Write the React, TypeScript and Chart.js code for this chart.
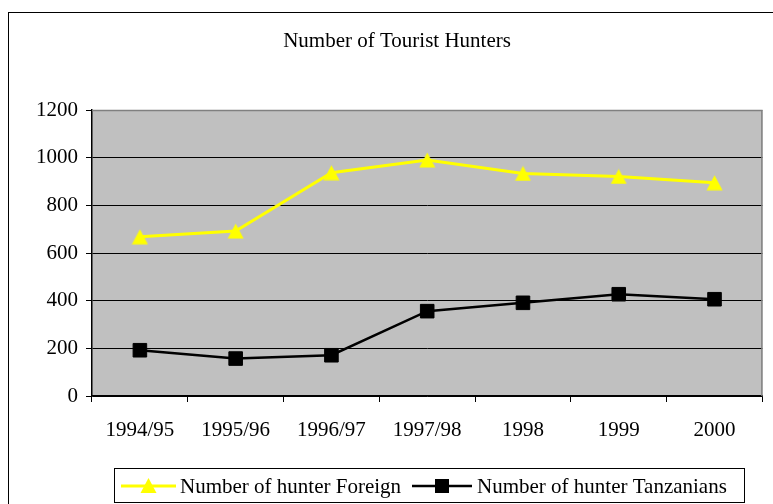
import React, { useEffect, useRef } from "react";
import { Chart, registerables } from "chart.js";

Chart.register(...registerables);

const categories = ["1994/95", "1995/96", "1996/97", "1997/98", "1998", "1999", "2000"];
const foreignHunters = [668, 692, 937, 990, 934, 921, 895];
const tanzanianHunters = [192, 157, 171, 356, 391, 427, 406];
const seriesLabels = ["Number of hunter Foreign", "Number of hunter Tanzanians"];
const chartTitle = "Number of Tourist Hunters";

const FONT = '"Liberation Serif", "Times New Roman", serif';

function makeTriangle(color: string): HTMLCanvasElement {
  const c = document.createElement("canvas");
  c.width = 17;
  c.height = 16;
  const g = c.getContext("2d")!;
  g.fillStyle = color;
  g.beginPath();
  g.moveTo(8.5, 0.5);
  g.lineTo(16.5, 15.5);
  g.lineTo(0.5, 15.5);
  g.closePath();
  g.fill();
  return c;
}

const framePlugin = {
  id: "frame",
  beforeDraw(chart: any) {
    const { ctx, chartArea } = chart;
    ctx.save();
    ctx.fillStyle = "#ffffff";
    ctx.fillRect(0, 0, chart.width, chart.height);
    ctx.strokeStyle = "#000000";
    ctx.lineWidth = 1;
    ctx.strokeRect(8.5, 12.5, 900, 600);
    ctx.fillStyle = "#C0C0C0";
    ctx.fillRect(chartArea.left, chartArea.top, chartArea.right - chartArea.left, chartArea.bottom - chartArea.top);
    ctx.restore();
  },
  beforeDatasetsDraw(chart: any) {
    const { ctx, chartArea } = chart;
    ctx.save();
    ctx.strokeStyle = "#808080";
    ctx.lineWidth = 1.5;
    ctx.beginPath();
    ctx.moveTo(chartArea.left, chartArea.top + 0.5);
    ctx.lineTo(chartArea.right - 0.5, chartArea.top + 0.5);
    ctx.lineTo(chartArea.right - 0.5, chartArea.bottom);
    ctx.stroke();
    ctx.restore();
  },
};

const boxLegendPlugin = {
  id: "boxLegend",
  afterDraw(chart: any) {
    const { ctx } = chart;
    const ds = chart.data.datasets;
    ctx.save();
    ctx.strokeStyle = "#000000";
    ctx.lineWidth = 1;
    ctx.strokeRect(114.5, 468.5, 630, 34);
    const cy = 486;
    const items = [
      { x0: 121, x1: 176, tx: 180 },
      { x0: 412, x1: 472, tx: 477 },
    ];
    ctx.font = `21px ${FONT}`;
    ctx.textBaseline = "middle";
    ctx.textAlign = "left";
    items.forEach((it, i) => {
      const d = ds[i];
      ctx.strokeStyle = d.borderColor;
      ctx.lineWidth = d.borderWidth;
      ctx.beginPath();
      ctx.moveTo(it.x0, cy);
      ctx.lineTo(it.x1, cy);
      ctx.stroke();
      const mx = (it.x0 + it.x1) / 2;
      ctx.fillStyle = d.pointBackgroundColor;
      if (i === 0) {
        ctx.beginPath();
        ctx.moveTo(mx, cy - 8);
        ctx.lineTo(mx + 8, cy + 7);
        ctx.lineTo(mx - 8, cy + 7);
        ctx.closePath();
        ctx.fill();
      } else {
        ctx.fillRect(mx - 7, cy - 7, 14, 14);
      }
      ctx.fillStyle = "#000000";
      ctx.fillText(d.label, it.tx, cy + 1);
    });
    ctx.restore();
  },
};

export default function App() {
  const ref = useRef<HTMLCanvasElement | null>(null);

  useEffect(() => {
    document.body.style.margin = "0";
    const canvas = ref.current;
    if (!canvas) return;
    const tri = makeTriangle("#FFFF00");
    const chart = new Chart(canvas, {
      type: "line",
      data: {
        labels: categories,
        datasets: [
          {
            label: seriesLabels[0],
            data: foreignHunters,
            borderColor: "#FFFF00",
            backgroundColor: "#FFFF00",
            borderWidth: 3,
            pointStyle: tri,
            pointRadius: 9,
            pointBackgroundColor: "#FFFF00",
            pointBorderColor: "#FFFF00",
            pointBorderWidth: 0,
            tension: 0,
          },
          {
            label: seriesLabels[1],
            data: tanzanianHunters,
            borderColor: "#000000",
            backgroundColor: "#000000",
            borderWidth: 2.5,
            pointStyle: "rect",
            pointRadius: 9.6,
            pointBackgroundColor: "#000000",
            pointBorderColor: "#000000",
            pointBorderWidth: 1,
            tension: 0,
          },
        ],
      },
      plugins: [framePlugin, boxLegendPlugin],
      options: {
        animation: false,
        responsive: false,
        devicePixelRatio: 1,
        layout: { padding: { left: 28, right: 7, top: 0, bottom: 50 } },
        plugins: {
          legend: { display: false },
          tooltip: { enabled: false },
          title: {
            display: true,
            text: chartTitle,
            color: "#000000",
            font: { family: FONT, size: 21, weight: "normal", lineHeight: 1.2 },
            padding: { top: 29, bottom: 55.8 },
          },
        },
        scales: {
          x: {
            type: "category",
            offset: true,
            grid: {
              offset: true,
              drawOnChartArea: false,
              drawTicks: true,
              tickLength: 6,
              tickColor: "#000000",
            },
            border: { display: true, color: "#000000", width: 1.5 },
            ticks: {
              color: "#000000",
              font: { family: FONT, size: 21 },
              padding: 16,
              maxRotation: 0,
              autoSkip: false,
            },
            afterFit(scale: any) {
              scale.height = 58;
            },
          },
          y: {
            min: 0,
            max: 1200,
            grid: {
              color: (c: any) => (c.tick && c.tick.value === 1200 ? "#808080" : "#000000"),
              tickColor: "#000000",
              tickLength: 6,
              lineWidth: 1,
            },
            border: { display: true, color: "#000000", width: 1.5 },
            ticks: {
              stepSize: 200,
              color: "#000000",
              font: { family: FONT, size: 21 },
              padding: 8,
              callback: (v: any) => String(v),
            },
            afterFit(scale: any) {
              scale.width = 64;
            },
          },
        },
      },
    });
    return () => chart.destroy();
  }, []);

  return <canvas ref={ref} width={773} height={504} style={{ display: "block" }} />;
}
